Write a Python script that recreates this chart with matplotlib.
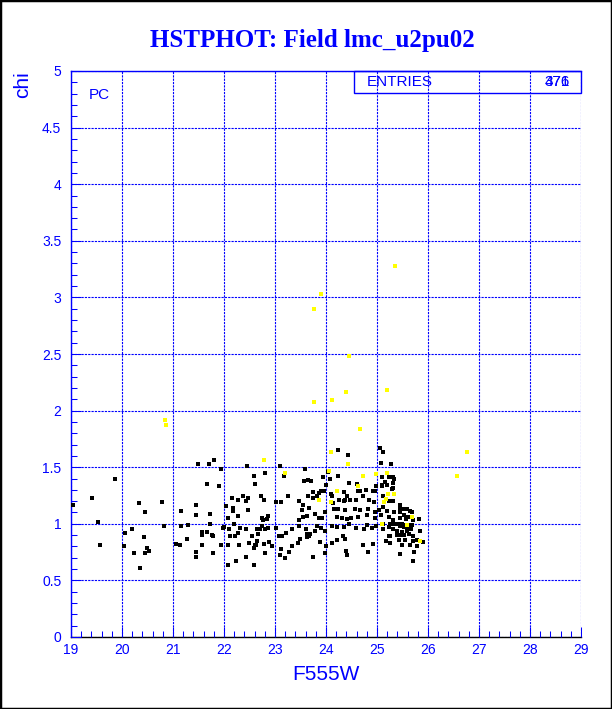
import matplotlib
matplotlib.use("Agg")
import matplotlib.pyplot as plt
from matplotlib.ticker import MultipleLocator, FormatStrFormatter
from matplotlib.patches import Rectangle

# ---------------- data ----------------
black_pts = [
 (19.86,1.40),(19.41,1.23),(19.03,1.17),(20.33,1.18),(20.79,1.19),(20.45,1.10),(21.16,1.11),(19.53,1.02),
 (20.82,0.98),(21.16,0.98),(21.29,0.99),(20.05,0.92),(20.19,0.95),(20.43,0.88),(21.27,0.87),(20.03,0.80),
 (19.57,0.81),(20.49,0.79),(20.52,0.76),(20.23,0.74),(20.45,0.74),(21.05,0.82),(21.13,0.81),(20.35,0.61),
 (21.50,1.53),(21.70,1.53),(21.80,1.56),(21.94,1.48),(22.46,1.51),(22.58,1.42),(22.60,1.35),(21.67,1.35),
 (21.90,1.33),(21.46,1.17),(21.45,1.08),(21.72,1.09),(22.03,1.16),(22.16,1.23),(22.27,1.21),(22.37,1.25),
 (22.48,1.23),(22.44,1.20),(22.17,1.14),(22.18,1.11),(22.07,1.05),(22.48,1.12),(22.19,1.00),(21.72,1.00),
 (21.57,0.93),(21.66,0.93),(21.76,0.90),(21.57,0.90),(21.78,0.89),(21.99,0.96),(22.10,0.95),(22.31,0.96),
 (22.44,0.95),(22.27,0.92),(22.12,0.89),(22.21,0.89),(22.55,0.89),(22.67,0.91),(22.65,0.85),(21.57,0.81),
 (21.94,0.81),(22.07,0.81),(22.29,0.81),(22.49,0.83),(22.58,0.79),(22.62,0.81),(21.46,0.75),(21.78,0.74),
 (21.45,0.71),(22.07,0.64),(22.23,0.67),(22.44,0.71),(22.58,0.64),
 (23.10,1.51),(23.59,1.48),(24.24,1.65),(24.44,1.61),(25.05,1.67),(25.11,1.63),(25.07,1.54),(25.27,1.53),
 (23.18,1.42),(22.81,1.45),(23.57,1.38),(23.65,1.39),(23.71,1.38),(23.95,1.41),(24.00,1.34),(23.90,1.29),
 (24.24,1.42),(24.46,1.36),(24.60,1.35),(24.67,1.29),(24.78,1.30),(24.93,1.29),(24.97,1.29),(25.10,1.33),
 (25.16,1.37),(25.33,1.40),(25.32,1.36),(25.29,1.31),(22.78,1.21),(22.72,1.25),(23.25,1.25),(23.11,1.19),
 (23.48,1.20),(23.75,1.28),(23.82,1.25),(23.64,1.25),(23.75,1.23),(23.97,1.29),(24.14,1.18),(24.25,1.21),
 (24.38,1.21),(24.47,1.21),(24.59,1.21),(24.72,1.25),(24.85,1.21),(24.95,1.19),(24.67,1.12),(24.57,1.13),
 (24.38,1.12),(24.24,1.13),(24.15,1.13),(24.82,1.13),(24.80,1.08),(24.63,1.06),(24.50,1.05),(24.41,1.04),
 (24.31,1.05),(24.22,1.06),(24.97,1.05),(25.03,1.12),(24.96,1.10),(25.07,1.08),(23.98,1.10),(23.93,1.05),
 (23.87,1.05),(23.79,1.09),(23.63,1.07),(23.55,1.06),(23.48,1.03),(23.52,1.12),(23.67,1.14),(23.55,1.17),
 (22.87,1.07),(22.84,1.04),(22.74,1.05),(22.77,1.03),(22.28,1.07),(23.01,1.19),(22.00,0.97),(22.65,0.95),
 (22.75,0.98),(22.71,0.95),(22.81,0.95),(22.86,0.96),(23.02,0.96),(23.08,0.89),(23.14,0.89),(23.22,0.92),
 (23.33,0.95),(23.48,0.98),(23.60,0.95),(23.63,0.91),(23.69,0.91),(23.79,0.94),(23.82,0.98),(23.90,0.96),
 (23.98,0.94),(24.12,0.98),(24.21,0.97),(24.35,0.97),(24.45,1.00),(24.59,0.96),(24.75,0.95),(24.80,0.99),
 (24.90,0.96),(24.99,0.98),(25.11,0.95),(25.23,0.97),(25.32,0.95),(25.25,0.89),(25.39,0.90),(25.43,0.86),
 (25.18,0.85),(24.93,0.82),(24.83,0.75),(24.73,0.81),(24.41,0.72),(24.39,0.76),(24.34,0.89),(24.38,0.87),
 (24.21,0.86),(24.11,0.83),(24.00,0.80),(23.88,0.84),(23.75,0.71),(23.99,0.74),(23.67,0.89),(23.62,0.88),
 (23.49,0.87),(23.45,0.83),(23.28,0.75),(23.34,0.80),(23.20,0.70),(23.10,0.72),(23.12,0.78),(22.88,0.84),
 (22.95,0.80),(22.79,0.82),(22.80,0.74),(22.61,0.81),
 (25.09,1.41),(25.24,1.41),(25.32,1.41),(25.09,1.34),(25.19,1.34),(25.32,1.32),(25.12,1.25),(25.32,1.20),
 (25.24,1.20),(25.45,1.17),(25.11,1.15),(25.20,1.11),(25.33,1.10),(25.46,1.13),(25.53,1.13),(25.59,1.13),
 (25.65,1.11),(25.69,1.10),(25.45,1.10),(25.52,1.08),(25.61,1.06),(25.46,1.05),(25.83,1.04),(25.71,1.03),
 (25.57,1.04),(25.32,1.03),(25.24,1.06),(25.11,1.00),(25.25,1.00),(25.33,1.00),(25.42,1.00),(25.50,1.00),
 (25.57,0.99),(25.63,0.99),(25.68,0.99),(25.46,0.98),(25.53,0.97),(25.61,0.97),(25.40,0.94),(25.58,0.94),
 (25.66,0.95),(25.50,0.93),(25.84,0.94),(25.45,0.90),(25.53,0.90),(25.63,0.91),(25.71,0.89),(25.24,0.89),
 (25.55,0.86),(25.71,0.85),(25.78,0.86),(25.84,0.85),(25.90,0.84),(25.49,0.81),(25.65,0.81),(25.78,0.80),
 (25.45,0.73),(25.73,0.75),(25.70,0.67),(25.25,0.83),
 (24.63,1.29),(24.99,1.33),(23.86,1.27),(24.12,1.25),(24.36,1.28),(24.41,1.25),(24.36,1.20),(24.08,1.40),
 (24.10,1.26),(24.03,1.46),
]
black_x = [p[0] for p in black_pts]
black_chi = [p[1] for p in black_pts]

yellow_x = [23.90, 23.76, 24.46, 25.19, 24.39, 24.12, 23.76, 20.84, 20.86, 24.66, 26.76, 24.09, 22.78,
            24.44, 24.05, 23.20, 25.19, 24.98, 24.72, 26.57, 25.35, 24.21, 24.63, 25.22, 25.34, 25.18,
            25.14, 24.10, 25.68, 25.58, 25.10, 25.84, 23.86]
yellow_chi = [3.03, 2.90, 2.48, 2.18, 2.16, 2.09, 2.08, 1.92, 1.87, 1.84, 1.63, 1.63, 1.56,
              1.53, 1.47, 1.45, 1.45, 1.44, 1.42, 1.42, 3.28, 1.29, 1.33, 1.26, 1.26, 1.22,
              1.19, 1.19, 1.06, 0.99, 1.00, 0.85, 1.21]

title = "HSTPHOT: Field lmc_u2pu02"
xlabel = "F555W"
ylabel = "chi"
entries_label = "ENTRIES"
entries_values = ["476", "371"]

BLUE = "#0000ff"

# ---------------- figure ----------------
W, H = 612, 709
fig = plt.figure(figsize=(W / 100, H / 100), dpi=100)
fig.patch.set_facecolor("white")

ax = fig.add_axes([71 / W, 1 - 637 / H, (581 - 71) / W, (637 - 71) / H])
ax.set_xlim(19, 29)
ax.set_ylim(0, 5)

ax.xaxis.set_major_locator(MultipleLocator(1))
ax.xaxis.set_minor_locator(MultipleLocator(0.2))
ax.yaxis.set_major_locator(MultipleLocator(0.5))
ax.yaxis.set_minor_locator(MultipleLocator(0.1))
ax.yaxis.set_major_formatter(FormatStrFormatter("%g"))
ax.xaxis.set_major_formatter(FormatStrFormatter("%g"))

ax.grid(True, which="major", color=BLUE, linestyle=(0, (2, 1)), linewidth=0.8)
ax.set_axisbelow(False)

ax.tick_params(which="both", direction="in", colors=BLUE, width=0.75,
               top=False, right=False, labelsize=10)
ax.tick_params(which="major", length=7)
ax.tick_params(which="minor", length=4)
ax.tick_params(axis="y", pad=7)
ax.tick_params(axis="x", pad=4)
for lab in ax.get_xticklabels() + ax.get_yticklabels():
    lab.set_color(BLUE)
    lab.set_family("Liberation Sans")

ax.spines["left"].set_color(BLUE)
ax.spines["bottom"].set_color("black")
ax.spines["top"].set_color(BLUE)
ax.spines["right"].set_visible(False)
for s in ax.spines.values():
    s.set_linewidth(1.0)

ax.plot(black_x, black_chi, linestyle="none", marker="s", ms=2.2, mew=0, color="black", zorder=3)
ax.plot(yellow_x, yellow_chi, linestyle="none", marker="s", ms=2.2, mew=0, color="#ffff00", zorder=4)

ax.set_xlabel(xlabel, color=BLUE, fontsize=15, family="Liberation Sans", labelpad=6)
ax.text(-0.095, 1.0, ylabel, transform=ax.transAxes, rotation=90, color=BLUE,
        fontsize=15, family="Liberation Sans", ha="center", va="top")

ax.text(0.035, 0.97, "PC", transform=ax.transAxes, color=BLUE, fontsize=11,
        family="Liberation Sans", ha="left", va="top")

# stats box (top-right)
bx0 = (354 - 71) / (581 - 71)
by0 = (637 - 93) / (637 - 71)
box = Rectangle((bx0, by0), 1 - bx0, 1 - by0, transform=ax.transAxes, fill=False,
                edgecolor=BLUE, linewidth=1.0, clip_on=False, zorder=5)
ax.add_patch(box)
ax.text((367 - 71) / 510, (637 - 82) / 566, entries_label, transform=ax.transAxes,
        color=BLUE, fontsize=11, family="Liberation Sans", ha="left", va="center", zorder=6)
for v in entries_values:
    ax.text((570 - 71) / 510, (637 - 82) / 566, v, transform=ax.transAxes,
            color=BLUE, fontsize=11, family="Liberation Sans", ha="right", va="center", zorder=6)

fig.text(312 / W, 1 - 40 / H, title, color=BLUE, fontsize=18, fontweight="bold",
         family="Liberation Serif", ha="center", va="center")

# figure border
fig.patches.append(Rectangle((0, 0), 1, 1, transform=fig.transFigure, fill=False,
                             edgecolor="black", linewidth=2.5, zorder=10))

fig.savefig("out.png", dpi=100)
